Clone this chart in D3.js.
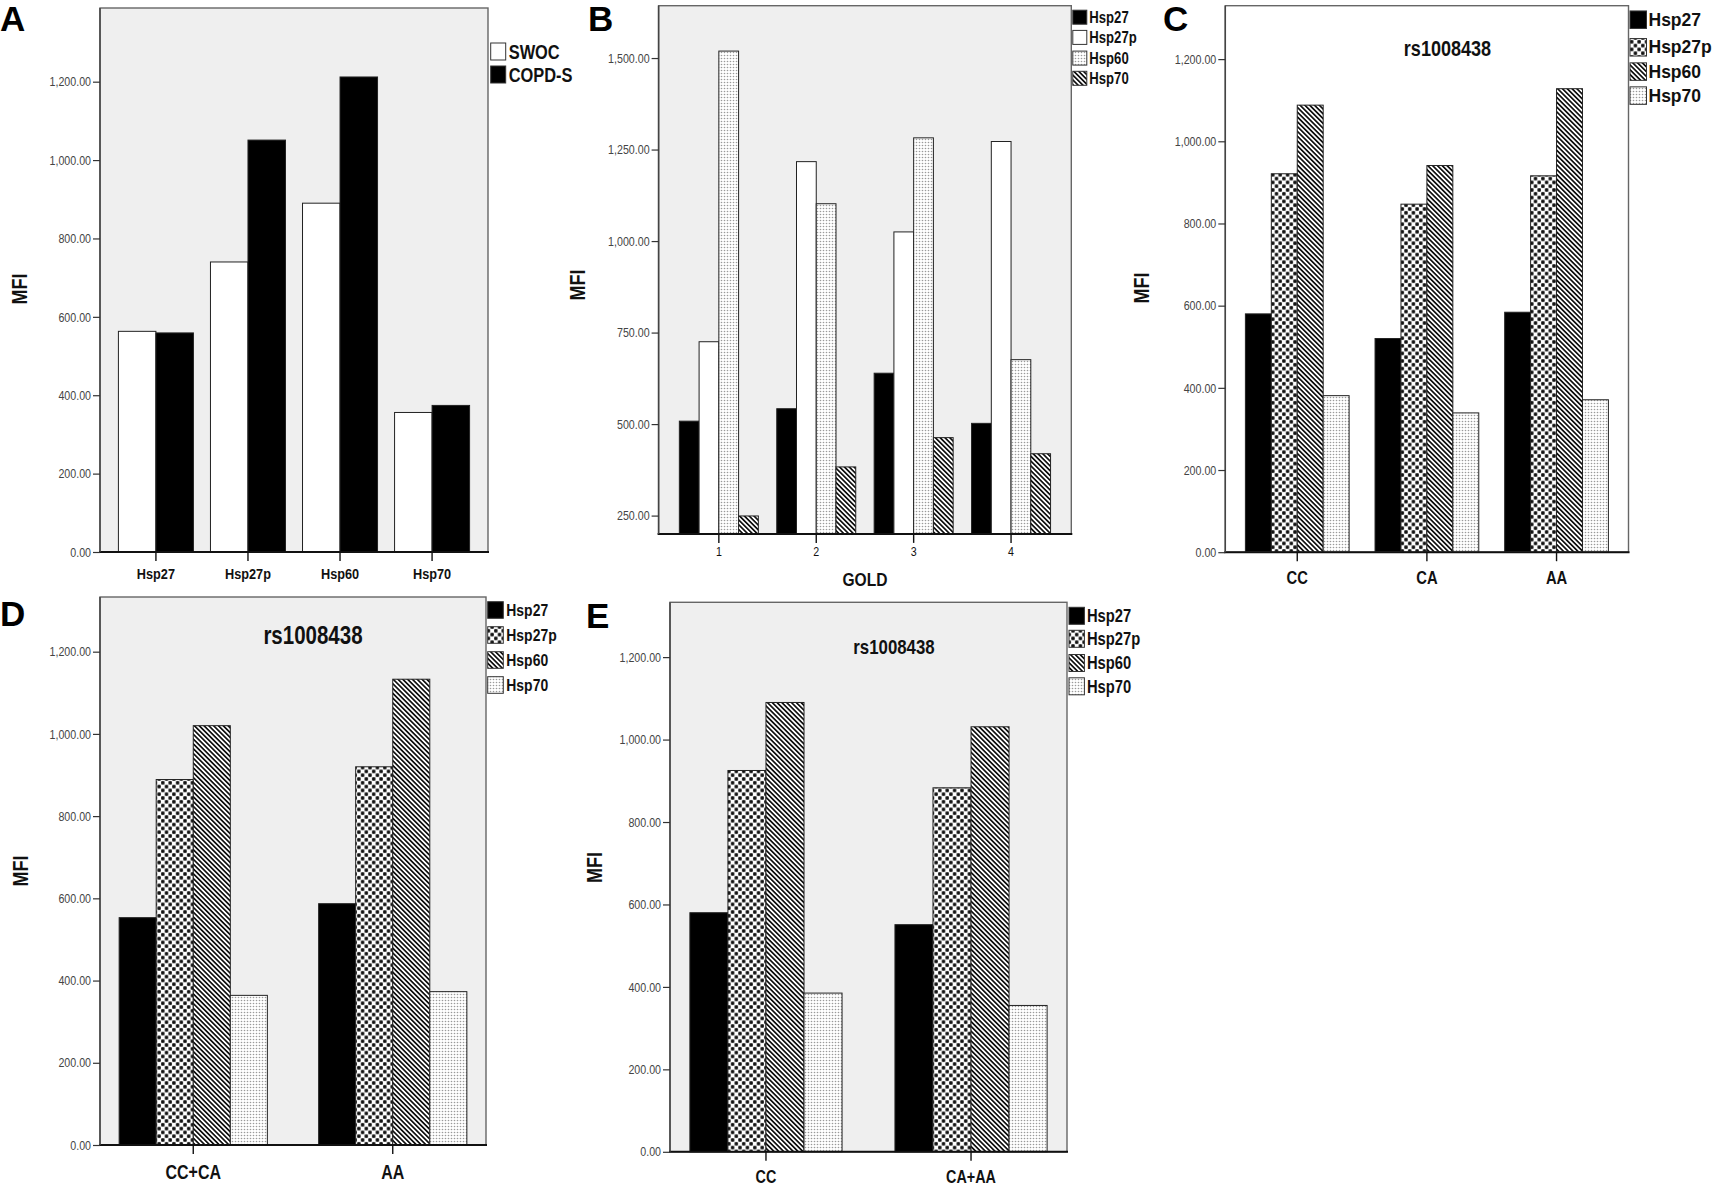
<!DOCTYPE html>
<html><head><meta charset="utf-8">
<script src="https://cdn.jsdelivr.net/npm/d3@7/dist/d3.min.js"></script>
<style>body{margin:0;background:#fff}svg{display:block}</style>
</head><body><svg id="c" width="1713" height="1193"></svg>
<script>
// ---------------- DATA ----------------
const heatShock = ["Hsp27","Hsp27p","Hsp60","Hsp70"];
// Panel A
const aCategories = ["Hsp27","Hsp27p","Hsp60","Hsp70"];
const aSeries = ["SWOC","COPD-S"];
const aSWOC = [563, 740, 890, 356];
const aCOPD = [559, 1051, 1212, 374];
const aTicks = [0,200,400,600,800,1000,1200];
// Panel B
const bCategories = ["1","2","3","4"];
const bHsp27  = [508, 542, 639, 502];
const bHsp27p = [725, 1217, 1025, 1272];
const bHsp60  = [1519, 1102, 1282, 676];
const bHsp70  = [249, 383, 463, 419];
const bTicks = [250,500,750,1000,1250,1500];
// Panel C
const cCategories = ["CC","CA","AA"];
const cHsp27  = [580, 520, 584];
const cHsp27p = [921, 847, 916];
const cHsp60  = [1088, 941, 1128];
const cHsp70  = [381, 339, 371];
// Panel D
const dCategories = ["CC+CA","AA"];
const dHsp27  = [553, 587];
const dHsp27p = [889, 920];
const dHsp60  = [1020, 1133];
const dHsp70  = [364, 373];
// Panel E
const eCategories = ["CC","CA+AA"];
const eHsp27  = [580, 551];
const eHsp27p = [925, 883];
const eHsp60  = [1090, 1031];
const eHsp70  = [385, 355];
const rsTicks = [0,200,400,600,800,1000,1200];
const snpTitle = "rs1008438";
const yTitle = "MFI";
const bXTitle = "GOLD";

// ---------------- DRAWING ----------------
const svg = d3.select("#c");
const SANS = '"Liberation Sans",Arial,sans-serif';
const NARROW_K = 0.82;   // horizontal compression imitating a narrow face
const defs = svg.append("defs");

function narrow(sel){
  sel.attr("font-family",SANS).each(function(){
    const l = this.getComputedTextLength();
    this.setAttribute("textLength", (l*NARROW_K).toFixed(2));
    this.setAttribute("lengthAdjust","spacingAndGlyphs");
  });
}

// patterns
function patDots(id){
  const p = defs.append("pattern").attr("id",id).attr("patternUnits","userSpaceOnUse").attr("width",3).attr("height",3);
  p.append("rect").attr("width",3).attr("height",3).attr("fill","#fff");
  p.append("circle").attr("cx",1.5).attr("cy",1.5).attr("r",0.8).attr("fill","#9a9a9a");
}
function patHatch(id){
  const s = 3.4;
  const p = defs.append("pattern").attr("id",id).attr("patternUnits","userSpaceOnUse")
    .attr("width",s).attr("height",s).attr("patternTransform","rotate(-45)");
  p.append("rect").attr("width",s).attr("height",s).attr("fill","#fff");
  p.append("line").attr("x1",s/2).attr("x2",s/2).attr("y1",-1).attr("y2",s+1)
    .attr("stroke","#111").attr("stroke-width",1.7);
}
function patDiamond(id){
  const w = 7.4, h = 7.6;
  const p = defs.append("pattern").attr("id",id).attr("patternUnits","userSpaceOnUse").attr("width",w).attr("height",h);
  p.append("rect").attr("width",w).attr("height",h).attr("fill","#fff");
  p.append("path").attr("d",`M0,0L${w},${h}M${w},0L0,${h}`).attr("stroke","#9a9a9a").attr("stroke-width",0.6);
  [[0,0],[w,0],[0,h],[w,h],[w/2,h/2]].forEach(([x,y])=>
    p.append("circle").attr("cx",x).attr("cy",y).attr("r",1.85).attr("fill","#111"));
}
patDots("dots"); patHatch("hatch"); patDiamond("diam");

const fmt = d3.format(",.2f");

function drawPanel(cfg){
  const g = svg.append("g");
  const {x0:L, x1:R, y0:T, y1:B} = cfg.frame;
  const y = d3.scaleLinear().domain(cfg.domain).range([B,T]);
  const x0 = d3.scaleBand().domain(cfg.categories).range([L,R]).paddingInner(cfg.pi).paddingOuter(cfg.po);
  const x1 = d3.scaleBand().domain(cfg.series).range([0,x0.bandwidth()]);

  g.append("rect").attr("x",L).attr("y",T).attr("width",R-L).attr("height",B-T).attr("fill",cfg.bg);

  cfg.series.forEach((s,si)=>{
    g.append("g").selectAll("rect").data(cfg.values[si]).join("rect")
      .attr("x",(d,i)=>x0(cfg.categories[i])+x1(s))
      .attr("y",d=>y(d))
      .attr("width",x1.bandwidth())
      .attr("height",d=>y(cfg.domain[0])-y(d))
      .attr("fill",cfg.fills[si]).attr("stroke","#222").attr("stroke-width",1);
  });

  g.append("rect").attr("x",L).attr("y",T).attr("width",R-L).attr("height",B-T)
    .attr("fill","none").attr("stroke","#666").attr("stroke-width",1.4);
  g.append("line").attr("x1",L-1).attr("x2",R+1).attr("y1",B).attr("y2",B).attr("stroke","#111").attr("stroke-width",2);
  g.append("line").attr("x1",L).attr("x2",L).attr("y1",T).attr("y2",B).attr("stroke","#444").attr("stroke-width",1.5);

  const ya = g.append("g").attr("transform",`translate(${L},0)`)
    .call(d3.axisLeft(y).tickValues(cfg.ticks).tickFormat(fmt).tickSize(7).tickPadding(2));
  ya.select(".domain").remove();
  ya.selectAll("line").attr("stroke","#333").attr("stroke-width",1.2);
  ya.selectAll("text").attr("font-size",13).attr("fill","#444").call(narrow);

  const xa = g.append("g").attr("transform",`translate(0,${B})`)
    .call(d3.axisBottom(x0).tickSize(9).tickPadding(cfg.xPad));
  xa.select(".domain").remove();
  xa.selectAll("line").attr("stroke","#111").attr("stroke-width",1.4);
  xa.selectAll("text").attr("font-size",cfg.xFont)
    .attr("font-weight",cfg.xBold?"bold":"normal").attr("fill","#111").call(narrow);

  // y title
  g.append("text").attr("transform",`translate(${cfg.mfi[0]},${cfg.mfi[1]}) rotate(-90)`)
    .attr("text-anchor","middle").attr("dy","0.35em")
    .attr("font-weight","bold").attr("font-size",22).attr("fill","#111")
    .text(yTitle).call(narrow);

  if(cfg.xTitle){
    g.append("text").attr("x",(L+R)/2).attr("y",cfg.xTitle.y).attr("text-anchor","middle").attr("dy","0.35em")
      .attr("font-weight","bold").attr("font-size",19).attr("fill","#111")
      .text(cfg.xTitle.text).call(narrow);
  }
  if(cfg.title){
    g.append("text").attr("x",cfg.title.x).attr("y",cfg.title.y).attr("text-anchor","middle").attr("dy","0.35em")
      .attr("font-weight","bold").attr("font-size",cfg.title.fs).attr("fill","#111")
      .text(snpTitle).call(narrow);
  }

  // legend
  const lg = cfg.legend;
  cfg.series.forEach((s,si)=>{
    const cy = lg.rows[si];
    g.append("rect").attr("x",lg.x).attr("y",cy-lg.h/2).attr("width",lg.w).attr("height",lg.h)
      .attr("fill",cfg.fills[si]).attr("stroke","#333").attr("stroke-width",1);
    const t = g.append("text").attr("x",lg.x+lg.w+lg.gap).attr("y",cy).attr("dy","0.35em")
      .attr("font-family",SANS).attr("font-weight","bold").attr("font-size",lg.fs).attr("fill","#111")
      .text(s);
    if(lg.narrow) t.call(narrow);
  });

  // panel letter
  g.append("text").attr("x",cfg.letter[1]).attr("y",cfg.letter[2])
    .attr("font-family",SANS).attr("font-weight","bold").attr("font-size",35).attr("fill","#000")
    .text(cfg.letter[0]);
}

const blk = "#000", wht = "#fff";

drawPanel({
  frame:{x0:100,x1:488,y0:8,y1:552}, bg:"#efefef", domain:[0,1388], ticks:aTicks,
  categories:aCategories, series:aSeries, values:[aSWOC,aCOPD], fills:[wht,blk],
  pi:0.185, po:0.2, xFont:15.5, xBold:true, xPad:6.5,
  mfi:[19,289],
  legend:{x:490.7,w:15,h:17,gap:3,rows:[51.5,74.5],fs:20,narrow:true},
  letter:["A",0,31]
});
drawPanel({
  frame:{x0:658.6,x1:1071.3,y0:5.7,y1:533.9}, bg:"#efefef", domain:[200,1643], ticks:bTicks,
  categories:bCategories, series:heatShock, values:[bHsp27,bHsp27p,bHsp60,bHsp70],
  fills:[blk,wht,"url(#dots)","url(#hatch)"],
  pi:0.189, po:0.213, xFont:13, xBold:false, xPad:4,
  mfi:[577,285], xTitle:{text:bXTitle,y:579},
  legend:{x:1072.8,w:14,h:14,gap:2.5,rows:[17.2,37.4,58.1,78.3],fs:16,narrow:true},
  letter:["B",588,31]
});
drawPanel({
  frame:{x0:1225.3,x1:1628.5,y0:5.7,y1:552.2}, bg:"#ffffff", domain:[0,1330], ticks:rsTicks,
  categories:cCategories, series:heatShock, values:[cHsp27,cHsp27p,cHsp60,cHsp70],
  fills:[blk,"url(#diam)","url(#hatch)","url(#dots)"],
  pi:0.2, po:0.155, xFont:18, xBold:true, xPad:10,
  mfi:[1141.6,288], title:{x:1447.5,y:47.8,fs:22},
  legend:{x:1630,w:16.5,h:17.5,gap:2,rows:[19.7,47.3,71.6,95.6],fs:17.5,narrow:false},
  letter:["C",1163,31]
});
drawPanel({
  frame:{x0:100,x1:486,y0:597,y1:1145}, bg:"#efefef", domain:[0,1333], ticks:rsTicks,
  categories:dCategories, series:heatShock, values:[dHsp27,dHsp27p,dHsp60,dHsp70],
  fills:[blk,"url(#diam)","url(#hatch)","url(#dots)"],
  pi:0.257, po:0.096, xFont:19.5, xBold:true, xPad:11,
  mfi:[20,871], title:{x:313,y:635.3,fs:25},
  legend:{x:487.7,w:15.6,h:16.6,gap:3,rows:[610,635,660,685],fs:17,narrow:true},
  letter:["D",0,626]
});
drawPanel({
  frame:{x0:670,x1:1067,y0:602.3,y1:1151.8}, bg:"#efefef", domain:[0,1333], ticks:rsTicks,
  categories:eCategories, series:heatShock, values:[eHsp27,eHsp27p,eHsp60,eHsp70],
  fills:[blk,"url(#diam)","url(#hatch)","url(#dots)"],
  pi:0.258, po:0.097, xFont:17.5, xBold:true, xPad:9.5,
  mfi:[594,867.5], title:{x:894,y:646.8,fs:20.5},
  legend:{x:1069,w:15.4,h:17,gap:2.5,rows:[615.8,638.8,663,686.3],fs:18,narrow:true},
  letter:["E",586,628]
});
</script></body></html>
